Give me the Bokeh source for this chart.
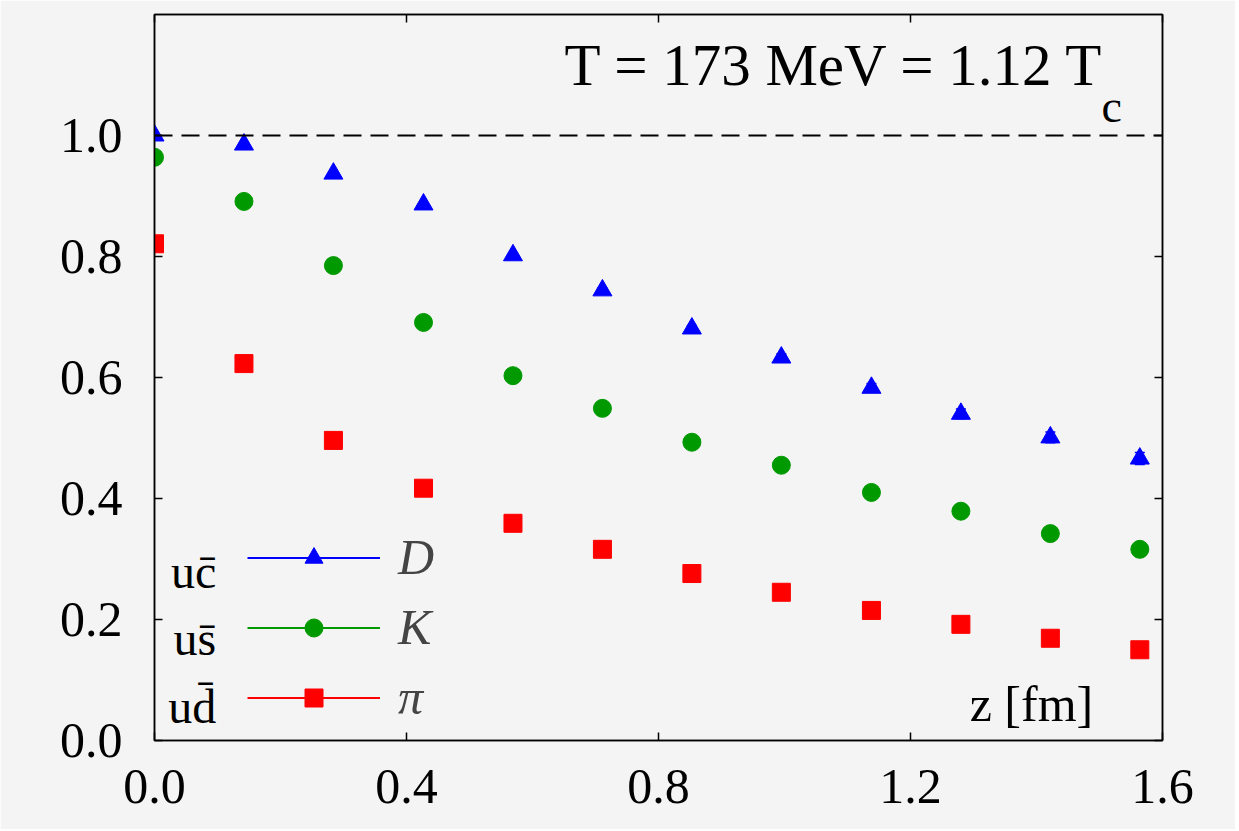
from bokeh.plotting import figure
from bokeh.models import (Range1d, LinearAxis, FixedTicker, Whisker, ColumnDataSource,
                          Legend, LegendItem, Label, Span, PrintfTickFormatter)
from bokeh.embed import file_html
from bokeh.resources import INLINE

# ---- data ----
z = [0.0, 0.142, 0.284, 0.427, 0.569, 0.711, 0.853, 0.995, 1.138, 1.280, 1.422, 1.564]
D_val = [1.000, 0.985, 0.937, 0.886, 0.802, 0.744, 0.681, 0.633, 0.583, 0.540, 0.501, 0.466]
D_err = [0.001, 0.002, 0.003, 0.003, 0.004, 0.004, 0.005, 0.006, 0.007, 0.008, 0.009, 0.010]
K_val = [0.964, 0.891, 0.785, 0.691, 0.603, 0.549, 0.493, 0.455, 0.410, 0.379, 0.342, 0.316]
K_err = [0.001, 0.002, 0.002, 0.003, 0.003, 0.003, 0.003, 0.003, 0.003, 0.003, 0.003, 0.003]
P_val = [0.821, 0.623, 0.496, 0.417, 0.359, 0.316, 0.276, 0.245, 0.215, 0.192, 0.169, 0.150]
P_err = [0.003, 0.010, 0.010, 0.009, 0.006, 0.005, 0.004, 0.004, 0.004, 0.004, 0.004, 0.004]

x_ticks = [0.0, 0.4, 0.8, 1.2, 1.6]
y_ticks = [0.0, 0.2, 0.4, 0.6, 0.8, 1.0]
meson_names = ["D", "K", "\u03c0"]
quark_labels = ["uc\u0304", "us\u0304", "ud\u0304"]
colors = ["#0000ff", "#009a00", "#ff0000"]
markers = ["triangle", "circle", "square"]
sizes = [19, 18, 18]

BG = "#f4f4f4"
FONT = "Liberation Serif"

p = figure(width=1235, height=829, output_backend="svg", toolbar_location=None,
           x_range=Range1d(0.0, 1.6), y_range=Range1d(0.0, 1.2),
           min_border_left=154, min_border_right=73, min_border_top=14, min_border_bottom=89,
           background_fill_color=BG, border_fill_color=BG)
p.grid.visible = False
p.outline_line_color = "black"
p.outline_line_width = 1.5

p.xaxis.ticker = FixedTicker(ticks=x_ticks)
p.yaxis.ticker = FixedTicker(ticks=y_ticks)
for ax in (p.xaxis[0], p.yaxis[0]):
    ax.major_tick_in = 8
    ax.major_tick_out = 0
    ax.minor_tick_line_color = None
    ax.axis_line_width = 1.5
    ax.major_tick_line_width = 1.5
    ax.major_label_text_font = FONT
    ax.major_label_text_font_size = "50px"
    ax.major_label_text_color = "black"
    ax.formatter = PrintfTickFormatter(format="%.1f")
p.xaxis.major_label_standoff = 29
p.yaxis.major_label_standoff = 32

for loc, ticks in (("above", x_ticks), ("right", y_ticks)):
    ax = LinearAxis(ticker=FixedTicker(ticks=ticks), major_label_text_font_size="8px",
                    major_label_text_color=None, major_label_text_alpha=0,
                    major_tick_in=8, major_tick_out=0, minor_tick_line_color=None,
                    major_label_standoff=0, axis_line_width=1.5, major_tick_line_width=1.5)
    p.add_layout(ax, loc)

# dashed reference line at 1
p.add_layout(Span(location=1.0, dimension="width", line_color="black",
                  line_dash="18 9", line_width=2))

nan = float("nan")
series = [(D_val, D_err), (K_val, K_err), (P_val, P_err)]
items = []
for (vals, errs), col, mk, sz, name in zip(series, colors, markers, sizes, meson_names):
    src = ColumnDataSource(dict(x=z, y=vals,
                                lo=[v - e for v, e in zip(vals, errs)],
                                hi=[v + e for v, e in zip(vals, errs)]))
    w = Whisker(source=src, base="x", lower="lo", upper="hi", line_color=col, line_width=1.5)
    for h in (w.upper_head, w.lower_head):
        h.size = 10
        h.line_color = col
        h.line_width = 1.5
    p.add_layout(w)
    sr = p.scatter("x", "y", source=src, marker=mk, size=sz, fill_color=col, line_color=col)
    # legend-only line (NaN values draw nothing in the plot)
    lr = p.line(x=z, y=[nan] * len(z), line_color=col, line_width=2)
    items.append(LegendItem(label=name, renderers=[lr, sr]))

legend = Legend(items=items, location=(93, 14), orientation="vertical",
                glyph_width=133, glyph_height=45, label_height=45, spacing=12,
                padding=0, margin=0, label_standoff=18,
                border_line_alpha=0, background_fill_alpha=0,
                label_text_font=FONT, label_text_font_style="italic",
                label_text_font_size="50px", label_text_color="#444444")
p.add_layout(legend, "center")

# quark-content labels left of legend
for lab, yy in zip(quark_labels, [0.280, 0.168, 0.056]):
    p.add_layout(Label(x=0.098, y=yy, text=lab, text_align="right",
                       text_baseline="alphabetic", text_font=FONT,
                       text_font_size="48px", text_color="black"))

# temperature annotation
p.add_layout(Label(x=1.508, y=1.116, text="T = 173 MeV = 1.12 T", text_align="right",
                   text_baseline="alphabetic", text_font=FONT, text_font_size="59px",
                   text_color="black"))
p.add_layout(Label(x=1.503, y=1.048, text="c", text_align="left",
                   text_baseline="alphabetic", text_font=FONT, text_font_size="46px",
                   text_color="black"))

# axis title inside the frame
p.add_layout(Label(x=1.490, y=0.061, text="z [fm]", text_align="right",
                   text_baseline="alphabetic", text_font=FONT, text_font_size="50px",
                   text_color="black"))

open("out.html", "w").write(file_html(p, INLINE))
